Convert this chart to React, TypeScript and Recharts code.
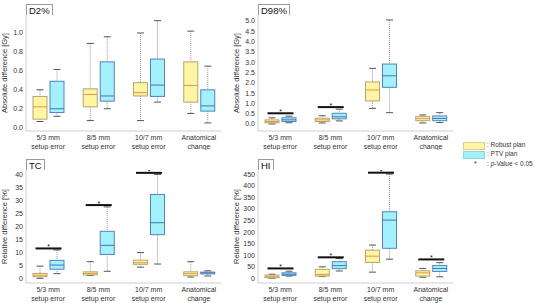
import React from 'react';
import { ComposedChart, Bar, XAxis, YAxis } from 'recharts';

const GROUPS = ['5/3 mm\nsetup error', '8/5 mm\nsetup error', '10/7 mm\nsetup error', 'Anatomical\nchange'];

// box stats per group: [min, q1, median, q3, max]
const D2_ROBUST = [
  [0.065, 0.09, 0.22, 0.33, 0.4],
  [0.075, 0.22, 0.35, 0.41, 0.89],
  [0.075, 0.335, 0.37, 0.475, 1.0],
  [0.15, 0.27, 0.445, 0.695, 1.02],
];
const D2_PTV = [
  [0.12, 0.16, 0.2, 0.49, 0.615],
  [0.2, 0.28, 0.335, 0.695, 0.96],
  [0.27, 0.33, 0.45, 0.725, 1.13],
  [0.05, 0.175, 0.23, 0.4, 0.65],
];
const D2_SIG = [null, null, null, null];
const D2_TICKS = [0, 0.2, 0.4, 0.6, 0.8, 1.0];

const D98_ROBUST = [
  [0.0, 0.06, 0.12, 0.2, 0.3],
  [0.05, 0.12, 0.2, 0.28, 0.4],
  [0.76, 1.12, 1.65, 2.04, 2.7],
  [0.05, 0.16, 0.26, 0.36, 0.44],
];
const D98_PTV = [
  [0.06, 0.12, 0.2, 0.3, 0.38],
  [0.15, 0.25, 0.35, 0.52, 0.72],
  [0.55, 1.78, 2.34, 2.91, 5.05],
  [0.07, 0.16, 0.27, 0.39, 0.55],
];
const D98_SIG = [0.52, 0.82, null, null];
const D98_TICKS = [0, 0.5, 1, 1.5, 2, 2.5, 3, 3.5, 4, 4.5, 5];

const TC_ROBUST = [
  [0.0, 0.6, 1.2, 1.9, 4.7],
  [1.1, 1.3, 1.9, 2.5, 6.4],
  [4.3, 5.4, 6.0, 7.0, 9.9],
  [0.5, 1.0, 1.8, 2.5, 6.4],
];
const TC_PTV = [
  [1.8, 3.5, 5.1, 6.9, 10.9],
  [2.7, 9.2, 12.7, 18.1, 27.5],
  [5.5, 16.8, 21.4, 32.3, 40.0],
  [0.9, 1.7, 2.1, 2.4, 2.9],
];
const TC_SIG = [11.5, 28.2, 40.6, null];
const TC_TICKS = [0, 5, 10, 15, 20, 25, 30, 35, 40];

const HI_ROBUST = [
  [1, 3, 7, 14, 18],
  [8, 10, 17, 39, 50],
  [27, 69, 96, 122, 144],
  [5, 10, 24, 33, 43],
];
const HI_PTV = [
  [10, 13, 18, 24, 31],
  [32, 42, 55, 72, 86],
  [83, 130, 252, 288, 451],
  [7, 30, 43, 56, 68],
];
const HI_SIG = [43, 91, 457, 82];
const HI_TICKS = [0, 50, 100, 150, 200, 250, 300, 350, 400, 450];

const FONT = '"Liberation Sans", Arial, sans-serif';
const FRAME = '#cfcfcf';
const ROBUST = { fill: '#fff5a3', stroke: '#b5a56e', median: '#e3954a' };
const PTV = { fill: '#a3f1fa', stroke: '#5283c4', median: '#4774b5' };

function buildRows(robust, ptv, sig) {
  return GROUPS.map((group, i) => ({
    group,
    robust: [robust[i][1], robust[i][3]],
    ptv: [ptv[i][1], ptv[i][3]],
    rStats: robust[i],
    pStats: ptv[i],
    sig: sig[i],
  }));
}

function makeBox(kind) {
  const c = kind === 'robust' ? ROBUST : PTV;
  return (props) => {
    const { x, y, width, height, payload } = props;
    const s = kind === 'robust' ? payload.rStats : payload.pStats;
    const top = Math.min(y, y + height);
    const h = Math.abs(height);
    const bottom = top + h;
    const k = h / (s[3] - s[1]);
    const py = (v) => bottom - (v - s[1]) * k;
    const cx = x + width / 2;
    const showSig = kind === 'ptv' && payload.sig != null;
    const gc = x - 1.5;
    return (
      <g>
        <line x1={cx} x2={cx} y1={py(s[4])} y2={top} stroke="#9a9a9a" strokeWidth={1} strokeDasharray="1 1" />
        <line x1={cx} x2={cx} y1={bottom} y2={py(s[0])} stroke="#9a9a9a" strokeWidth={1} strokeDasharray="1 1" />
        <line x1={cx - 3.5} x2={cx + 3.5} y1={py(s[4])} y2={py(s[4])} stroke="#555" strokeWidth={1} />
        <line x1={cx - 3.5} x2={cx + 3.5} y1={py(s[0])} y2={py(s[0])} stroke="#555" strokeWidth={1} />
        <rect x={x} y={top} width={width} height={h} fill={c.fill} stroke={c.stroke} strokeWidth={1} />
        <line x1={x} x2={x + width} y1={py(s[2])} y2={py(s[2])} stroke={c.median} strokeWidth={1} />
        {showSig && (
          <g>
            <line x1={gc - 13} x2={gc + 13} y1={py(payload.sig)} y2={py(payload.sig)} stroke="#111" strokeWidth={2} />
            <text x={gc} y={py(payload.sig) + 1} textAnchor="middle" fontSize={7} fontFamily={FONT} fill="#111">*</text>
          </g>
        )}
      </g>
    );
  };
}

const robustBox = makeBox('robust');
const ptvBox = makeBox('ptv');

function GroupTick({ x, y, payload }) {
  const [a, b] = String(payload.value).split('\n');
  return (
    <text x={x} y={y} textAnchor="middle" fontSize={7} fill="#333" fontFamily={FONT}>
      <tspan x={x} dy={6.5}>{a}</tspan>
      <tspan x={x} dy={9.5}>{b}</tspan>
    </text>
  );
}

function AxisTitle({ viewBox, text }) {
  const cx = viewBox.x + 7;
  const cy = viewBox.y + viewBox.height / 2;
  return (
    <text x={cx} y={cy} transform={`rotate(-90 ${cx} ${cy})`} textAnchor="middle" fontSize={7.5} fill="#333" fontFamily={FONT}>
      {text}
    </text>
  );
}

function Panel({ left, top, width, height, plotH, title, rows, domain, ticks, fmt, yLabel }) {
  return (
    <div style={{ position: 'absolute', left, top }}>
      <ComposedChart width={width} height={height} data={rows} margin={{ top: 15, right: 4, bottom: 0, left: 0 }} barSize={14} barGap={3}>
        <XAxis
          dataKey="group"
          xAxisId="b"
          height={height - 15 - plotH}
          padding={{ left: -3, right: -3 }}
          interval={0}
          tickLine={false}
          tickSize={0}
          axisLine={{ stroke: FRAME }}
          tick={<GroupTick />}
        />
        <XAxis dataKey="group" xAxisId="t" orientation="top" height={0} tick={false} tickLine={false} axisLine={{ stroke: FRAME }} />
        <YAxis
          yAxisId="l"
          width={26}
          type="number"
          domain={domain}
          allowDataOverflow
          ticks={ticks}
          interval={0}
          tickFormatter={fmt}
          tickLine={false}
          tickSize={2}
          tickMargin={1}
          axisLine={{ stroke: FRAME }}
          tick={{ fontSize: 7, fill: '#333', fontFamily: FONT }}
          label={<AxisTitle text={yLabel} />}
        />
        <YAxis yAxisId="r" orientation="right" width={0} domain={[0, 1]} tick={false} tickLine={false} axisLine={{ stroke: FRAME }} />
        <Bar dataKey="robust" xAxisId="b" yAxisId="l" shape={robustBox} isAnimationActive={false} />
        <Bar dataKey="ptv" xAxisId="b" yAxisId="l" shape={ptvBox} isAnimationActive={false} />
      </ComposedChart>
      <div
        style={{
          position: 'absolute',
          left: 26,
          top: 4,
          height: 11,
          padding: '0 2px',
          border: '1px solid #9a9a9a',
          borderBottom: 'none',
          background: '#fff',
          fontFamily: FONT,
          fontSize: 9.5,
          lineHeight: '11px',
          color: '#111',
          boxSizing: 'border-box',
        }}
      >
        {title}
      </div>
    </div>
  );
}

const fmt1 = (v) => v.toFixed(1);
const fmt0 = (v) => String(v);

function LegendBox() {
  const text = { position: 'absolute', left: 487, fontFamily: FONT, fontSize: 6.5, color: '#333', lineHeight: '8px', whiteSpace: 'nowrap' } as const;
  return (
    <>
      <div style={{ position: 'absolute', left: 463, top: 142, width: 20, height: 6, background: ROBUST.fill, border: '1px solid #d8d08a' }} />
      <div style={{ ...text, top: 141 }}>: Robust plan</div>
      <div style={{ position: 'absolute', left: 463, top: 151, width: 20, height: 6, background: PTV.fill, border: '1px solid #8fd6e0' }} />
      <div style={{ ...text, top: 150 }}>: PTV plan</div>
      <div style={{ position: 'absolute', left: 474, top: 160, fontFamily: FONT, fontSize: 7, color: '#333', lineHeight: '8px' }}>*</div>
      <div style={{ ...text, top: 160 }}>
        : <i>p</i>-Value &lt; 0.05
      </div>
    </>
  );
}

export default function App() {
  return (
    <div style={{ position: 'absolute', left: 0, top: 0, width: 535, height: 303, background: '#fff', overflow: 'hidden' }}>
      <Panel left={0} top={0} width={225} height={150} plotH={116} title="D2%" rows={buildRows(D2_ROBUST, D2_PTV, D2_SIG)} domain={[-0.035, 1.19]} ticks={D2_TICKS} fmt={fmt1} yLabel="Absolute difference [Gy]" />
      <Panel left={232} top={0} width={225} height={150} plotH={116} title="D98%" rows={buildRows(D98_ROBUST, D98_PTV, D98_SIG)} domain={[-0.34, 5.29]} ticks={D98_TICKS} fmt={fmt1} yLabel="Absolute difference [Gy]" />
      <Panel left={0} top={155} width={225} height={148} plotH={113} title="TC" rows={buildRows(TC_ROBUST, TC_PTV, TC_SIG)} domain={[-1.8, 41.7]} ticks={TC_TICKS} fmt={fmt0} yLabel="Relative difference [%]" />
      <Panel left={232} top={155} width={225} height={148} plotH={113} title="HI" rows={buildRows(HI_ROBUST, HI_PTV, HI_SIG)} domain={[-20, 468.6]} ticks={HI_TICKS} fmt={fmt0} yLabel="Relative difference [%]" />
      <LegendBox />
    </div>
  );
}
